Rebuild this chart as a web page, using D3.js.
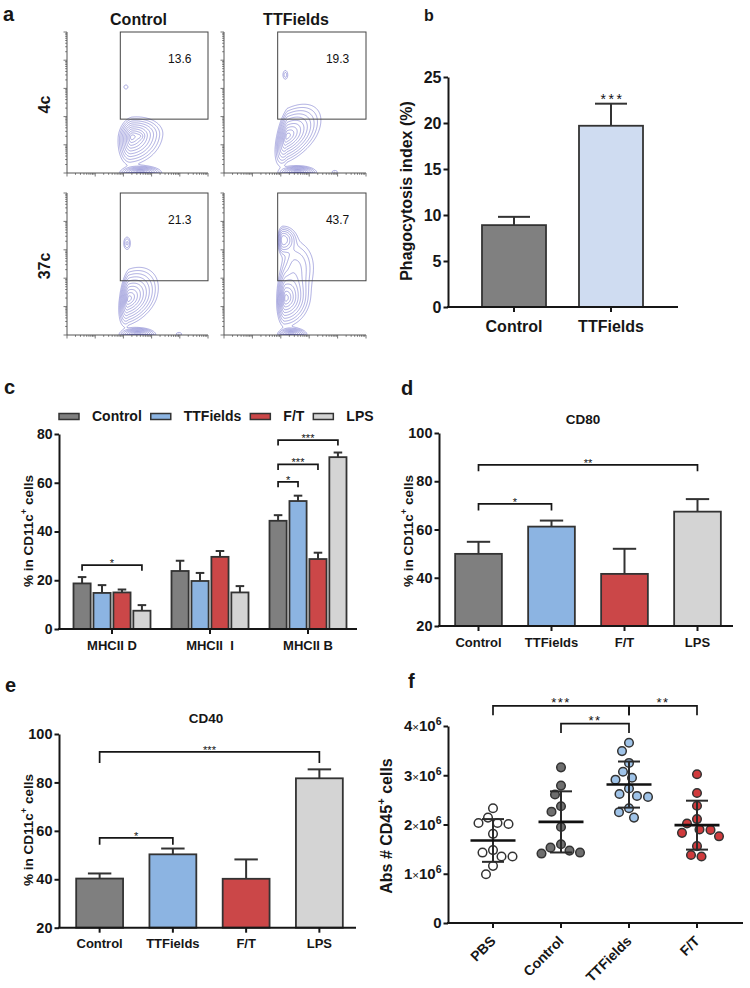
<!DOCTYPE html>
<html><head><meta charset="utf-8">
<script src="https://cdn.jsdelivr.net/npm/d3@7"></script>
<style>
body{margin:0;background:#fff}
svg{display:block}
text{font-family:"Liberation Sans",Arial,Helvetica,sans-serif}
</style></head><body>
<svg id="fig" width="750" height="988"></svg>
<script>
// ================= DATA =================
// panel a : flow cytometry contour plots
const flowColumns = ["Control", "TTFields"];
const flowRows = ["4c", "37c"];
const gatePercent4c = [13.6, 19.3];
const gatePercent37c = [21.3, 43.7];
const gateCorner = [1.89, 1.91];            // gate lower-left, in decades
// cell populations [cx, cy, sdLeft, sdRight, sdBelow, sdAbove, rho, weight] (decades)
const popControl4c = [
  [2.30, 1.28, 0.185, 0.415, 0.377, 0.268, 0.15, 1.00],
  [2.62, 1.30, 0.08, 0.08, 0.08, 0.08, 0.00, 0.12],
  [2.60, 0.00, 0.28, 0.29, 0.10, 0.10, 0.00, 0.90],
  [2.09, 3.05, 0.07, 0.07, 0.07, 0.07, 0.00, 0.05]
];
const popTTFields4c = [
  [2.22, 1.30, 0.16, 0.45, 0.40, 0.43, 0.50, 1.00],
  [2.59, 0.00, 0.26, 0.26, 0.10, 0.10, 0.00, 0.90],
  [2.16, 3.48, 0.06, 0.06, 0.11, 0.11, 0.00, 0.08],
  [3.90, 0.03, 0.08, 0.08, 0.05, 0.05, 0.00, 0.06]
];
const popControl37c = [
  [2.18, 1.27, 0.13, 0.40, 0.37, 0.42, 0.35, 1.00],
  [2.50, 0.00, 0.25, 0.25, 0.10, 0.10, 0.00, 0.90],
  [2.13, 3.23, 0.07, 0.07, 0.13, 0.13, 0.00, 0.12],
  [3.97, 0.03, 0.08, 0.08, 0.05, 0.05, 0.00, 0.06]
];
const popTTFields37c = [
  [2.17, 1.29, 0.12, 0.33, 0.38, 0.45, 0.10, 1.00],
  [2.08, 3.35, 0.08, 0.20, 0.22, 0.20, 0.00, 0.55],
  [2.50, 2.40, 0.22, 0.33, 0.45, 0.45, 0.00, 0.20],
  [2.35, 0.00, 0.18, 0.22, 0.10, 0.10, 0.00, 0.90]
];
const contourLevels = [0.03, 0.059, 0.106, 0.18, 0.284, 0.417, 0.571, 0.73, 0.869, 0.966];

// panel b
const phagoGroups = ["Control", "TTFields"];
const phagoMean = [8.9, 19.7];
const phagoSem = [0.9, 2.4];
const phagoTicks = [0, 5, 10, 15, 20, 25];
const phagoSig = ["", "***"];

// panels c-f
const conditions = ["Control", "TTFields", "F/T", "LPS"];
const mhcGroups = ["MHCII D", "MHCII  I", "MHCII B"];
const mhcControl  = [18.7, 23.8, 44.4];
const mhcTTFields = [14.8, 19.7, 52.5];
const mhcFT       = [15.0, 29.6, 28.7];
const mhcLPS      = [7.5, 15.0, 70.5];
const mhcControlSem  = [2.6, 4.2, 2.3];
const mhcTTFieldsSem = [3.2, 3.3, 2.2];
const mhcFTSem       = [1.2, 2.4, 2.6];
const mhcLPSSem      = [2.3, 2.6, 1.9];
const mhcTicks = [0, 20, 40, 60, 80];
// [group, from, to, bracket height (%), label]
const mhcBrackets = [
  ["MHCII D", "Control", "LPS", 26.2, "*"],
  ["MHCII B", "Control", "TTFields", 60.4, "*"],
  ["MHCII B", "Control", "F/T", 67.5, "***"],
  ["MHCII B", "Control", "LPS", 77.5, "***"]
];

const cd80Mean = [49.9, 61.2, 41.6, 67.4];
const cd80Sem  = [5.0, 2.5, 10.4, 5.2];
const cd80Brackets = [["Control", "LPS", 86.8, "**"], ["Control", "TTFields", 70.6, "*"]];

const cd40Mean = [40.3, 50.3, 40.2, 81.7];
const cd40Sem  = [2.1, 2.4, 8.0, 3.7];
const cd40Brackets = [["Control", "LPS", 92.6, "***"], ["Control", "TTFields", 57.1, "*"]];
const cdTicks = [20, 40, 60, 80, 100];

const cd45Groups = ["PBS", "Control", "TTFields", "F/T"];
const cd45PBS      = [2.33, 2.14, 2.03, 2.03, 2.01, 1.81, 1.48, 1.43, 1.35, 1.35, 1.16, 0.99].map(v => v * 1e6);
const cd45Control  = [3.16, 2.79, 2.61, 2.37, 2.26, 1.95, 1.60, 1.53, 1.47, 1.43, 1.41].map(v => v * 1e6);
const cd45TTFields = [3.66, 3.49, 3.25, 3.07, 2.95, 2.91, 2.73, 2.62, 2.58, 2.56, 2.33, 2.25, 2.14].map(v => v * 1e6);
const cd45FT       = [3.02, 2.64, 2.38, 2.11, 2.02, 1.90, 1.89, 1.83, 1.76, 1.56, 1.38, 1.35].map(v => v * 1e6);
const cd45Ticks = [0, 1e6, 2e6, 3e6, 4e6];
const cd45Brackets = [["PBS", "TTFields", 4.41e6, "***"], ["TTFields", "F/T", 4.41e6, "**"], ["Control", "TTFields", 4.05e6, "**"]];

// ================= STYLE =================
const INK = "#161616";
const EDGE = "#333";
const condColors = ["#7f7f7f", "#8cb4e2", "#cb4748", "#d4d4d4"];
const phagoColors = ["#808080", "#cfdcf1"];
const dotFills = ["#ffffff", "#6e6e6e", "#9fc3e8", "#d03a3c"];
const svg = d3.select("#fig");
svg.append("rect").attr("width", 750).attr("height", 988).attr("fill", "#fff");

function label(t, x, y, size) {
  svg.append("text").attr("x", x).attr("y", y).attr("font-size", size)
    .attr("font-weight", "bold").attr("fill", INK).text(t);
}
label("a", 3, 21, 20); label("b", 424, 20.5, 16); label("c", 4, 394, 20);
label("d", 401, 395, 20); label("e", 5, 692, 20); label("f", 408, 688, 20);

// ================= PANEL A =================
const flowColLeft = [67, 224], flowColRight = [208, 366];
const flowRowTop = [32, 193], flowRowBottom = [173, 335];
const flowPops = [[popControl4c, popTTFields4c], [popControl37c, popTTFields37c]];
const gateVals = [gatePercent4c, gatePercent37c];

flowColumns.forEach((c, i) => {
  svg.append("text").attr("x", (flowColLeft[i] + flowColRight[i]) / 2 + 1).attr("y", 25)
    .attr("text-anchor", "middle").attr("font-size", 16).attr("font-weight", "bold").attr("fill", INK).text(c);
});
flowRows.forEach((r, j) => {
  svg.append("text").attr("transform", `translate(50,${(flowRowTop[j] + flowRowBottom[j]) / 2 + 2}) rotate(-90)`)
    .attr("text-anchor", "middle").attr("font-size", 16).attr("font-weight", "bold").attr("fill", INK).text(r);
});

const N = 220;
let clipId = 0;
function flowPlot(left, right, top, bottom, pops, pct) {
  const fx = d3.scaleLinear().domain([0, 5]).range([left, right]);
  const fy = d3.scaleLinear().domain([0, 5]).range([bottom, top]);
  const vals = new Float64Array(N * N);
  for (let j = 0; j < N; j++) {
    const y = 5 - (j + 0.5) / N * 5;
    for (let i = 0; i < N; i++) {
      const x = (i + 0.5) / N * 5;
      let v = 0;
      for (const p of pops) {
        const [cx, cy, sl, sr, sb, sa, rho, w] = p;
        const dx = (x - cx) / (x < cx ? sl : sr), dy = (y - cy) / (y < cy ? sb : sa);
        const q = (dx * dx - 2 * rho * dx * dy + dy * dy) / (1 - rho * rho);
        v += w * Math.exp(-q / 2);
      }
      vals[j * N + i] = v;
    }
  }
  const gx = d3.scaleLinear().domain([0, N]).range([fx(0), fx(5)]);
  const gy = d3.scaleLinear().domain([0, N]).range([fy(5), fy(0)]);
  const path = d3.geoPath(d3.geoTransform({ point(x, y) { this.stream.point(gx(x), gy(y)); } }));
  const id = "clip" + (clipId++);
  svg.append("clipPath").attr("id", id).append("rect")
    .attr("x", left).attr("y", top).attr("width", right - left).attr("height", bottom - top);
  svg.append("g").attr("clip-path", `url(#${id})`).selectAll("path")
    .data(d3.contours().size([N, N]).thresholds(contourLevels)(vals)).join("path")
    .attr("d", path).attr("fill", "none").attr("stroke", "#5c5cc4").attr("stroke-width", 0.6).attr("stroke-opacity", 0.85);

  // log axes
  const lx = d3.scaleLog().domain([1, 1e5]).range([left, right]);
  const ly = d3.scaleLog().domain([1, 1e5]).range([bottom, top]);
  const ax = svg.append("g");
  ax.append("line").attr("x1", left).attr("x2", left).attr("y1", top).attr("y2", bottom).attr("stroke", "#555").attr("stroke-width", 1);
  ax.append("line").attr("x1", left).attr("x2", right).attr("y1", bottom).attr("y2", bottom).attr("stroke", "#555").attr("stroke-width", 1);
  const isMajor = t => Math.abs(Math.log10(t) - Math.round(Math.log10(t))) < 1e-9;
  ax.selectAll(".ty").data(ly.ticks()).join("line")
    .attr("x1", left).attr("x2", t => left - (isMajor(t) ? 3.5 : 1.8)).attr("y1", ly).attr("y2", ly)
    .attr("stroke", "#555").attr("stroke-width", 0.8);
  ax.selectAll(".tx").data(lx.ticks()).join("line")
    .attr("y1", bottom).attr("y2", t => bottom + (isMajor(t) ? 3.5 : 1.8)).attr("x1", lx).attr("x2", lx)
    .attr("stroke", "#555").attr("stroke-width", 0.8);
  // gate
  svg.append("rect").attr("x", fx(gateCorner[0])).attr("y", fy(5))
    .attr("width", fx(5) - fx(gateCorner[0])).attr("height", fy(gateCorner[1]) - fy(5))
    .attr("fill", "none").attr("stroke", "#444").attr("stroke-width", 1);
  svg.append("text").attr("x", fx(4.0)).attr("y", fy(3.9)).attr("text-anchor", "middle")
    .attr("font-family", '"Liberation Serif","Times New Roman",serif').attr("font-size", 12).attr("fill", "#111")
    .text(pct.toFixed(1));
}
for (let r = 0; r < 2; r++) for (let c = 0; c < 2; c++)
  flowPlot(flowColLeft[c], flowColRight[c], flowRowTop[r], flowRowBottom[r], flowPops[r][c], gateVals[r][c]);

// ================= helpers =================
function yAxis(y, ticks, xPos, size, fmt) {
  const g = svg.append("g").attr("transform", `translate(${xPos},0)`)
    .call(d3.axisLeft(y).tickValues(ticks).tickSize(4.5).tickSizeOuter(0).tickPadding(2).tickFormat(fmt || d3.format("d")));
  g.select(".domain").attr("stroke", INK).attr("stroke-width", 2);
  g.selectAll(".tick line").attr("stroke", INK).attr("stroke-width", 2);
  g.selectAll(".tick text").attr("font-size", size).attr("font-weight", "bold").attr("fill", INK)
    .attr("font-family", '"Liberation Sans",Arial,sans-serif');
  return g;
}
function xAxisLine(x1, x2, yPos) {
  svg.append("line").attr("x1", x1 - 1).attr("x2", x2).attr("y1", yPos).attr("y2", yPos)
    .attr("stroke", INK).attr("stroke-width", 2);
}
function xTicks(positions, yPos, len) {
  svg.append("g").selectAll("line").data(positions).join("line")
    .attr("x1", d => d).attr("x2", d => d).attr("y1", yPos).attr("y2", yPos + len)
    .attr("stroke", INK).attr("stroke-width", 2);
}
function bars(list) {
  const g = svg.append("g");
  g.selectAll("rect").data(list).join("rect")
    .attr("x", d => d.x).attr("width", d => d.w).attr("y", d => d.y1).attr("height", d => d.y0 - d.y1)
    .attr("fill", d => d.fill).attr("stroke", EDGE).attr("stroke-width", 1.8);
  g.selectAll(".stem").data(list).join("line").attr("class", "stem")
    .attr("x1", d => d.x + d.w / 2).attr("x2", d => d.x + d.w / 2).attr("y1", d => d.y1).attr("y2", d => d.yErr)
    .attr("stroke", EDGE).attr("stroke-width", 2);
  g.selectAll(".cap").data(list).join("line").attr("class", "cap")
    .attr("x1", d => d.x + d.w / 4).attr("x2", d => d.x + 3 * d.w / 4).attr("y1", d => d.yErr).attr("y2", d => d.yErr)
    .attr("stroke", EDGE).attr("stroke-width", 2);
}
function bracket(x1, x2, yb, drop, txt, size) {
  const d = `M${x1},${yb + drop}L${x1},${yb}L${x2},${yb}L${x2},${yb + drop}`;
  svg.append("path").attr("d", d).attr("fill", "none").attr("stroke", INK).attr("stroke-width", 1.7);
  svg.append("text").attr("x", (x1 + x2) / 2).attr("y", yb + 2).attr("text-anchor", "middle")
    .attr("font-size", size).attr("fill", "#111").text(txt);
}
function yLabel(x, y, size, main, sup, rest) {
  const t = svg.append("text").attr("transform", `translate(${x},${y}) rotate(-90)`).attr("text-anchor", "middle")
    .attr("font-size", size).attr("font-weight", "bold").attr("fill", INK);
  t.append("tspan").text(main);
  if (sup) {
    t.append("tspan").attr("font-size", size * 0.7).attr("dy", -size * 0.42).text(sup);
    t.append("tspan").attr("dy", size * 0.42).text(rest);
  }
}
function xLabels(names, positions, yPos, size) {
  svg.append("g").selectAll("text").data(names).join("text")
    .attr("x", (d, i) => positions[i]).attr("y", yPos).attr("text-anchor", "middle")
    .attr("font-size", size).attr("font-weight", "bold").attr("fill", INK)
    .style("white-space", "pre").text(d => d);
}

// ================= PANEL B =================
{
  const y = d3.scaleLinear().domain([0, 25]).range([307, 77]);
  const x = d3.scaleBand().domain(phagoGroups).range([465.5, 659.5]);
  const bw = 64;
  bars(phagoGroups.map((g, i) => ({
    x: x(g) + x.bandwidth() / 2 - bw / 2, w: bw, y0: y(0), y1: y(phagoMean[i]),
    yErr: y(phagoMean[i] + phagoSem[i]), fill: phagoColors[i]
  })));
  xAxisLine(448, 678, y(0));
  xTicks(phagoGroups.map(g => x(g) + x.bandwidth() / 2), y(0), 5);
  yAxis(y, phagoTicks, 448, 16);
  xLabels(phagoGroups, phagoGroups.map(g => x(g) + x.bandwidth() / 2), 332, 16);
  phagoGroups.forEach((g, i) => {
    if (phagoSig[i]) svg.append("text").attr("x", x(g) + x.bandwidth() / 2 + 1.5).attr("y", y(phagoMean[i] + phagoSem[i]) + 0.5)
      .attr("text-anchor", "middle").attr("font-size", 14).attr("fill", "#111").attr("letter-spacing", 2.5).text(phagoSig[i]);
  });
  yLabel(412, 191, 16, "Phagocytosis index (%)");
}

// ================= PANEL C =================
{
  const y = d3.scaleLinear().domain([0, 80]).range([629, 434]);
  const xg = d3.scaleBand().domain(mhcGroups).range([63, 357]);
  const xs = d3.scaleBand().domain(conditions).range([10.5, 87.5]).paddingInner(0.14);
  const series = [mhcControl, mhcTTFields, mhcFT, mhcLPS];
  const sems = [mhcControlSem, mhcTTFieldsSem, mhcFTSem, mhcLPSSem];
  const list = [];
  mhcGroups.forEach((g, gi) => conditions.forEach((c, ci) => list.push({
    x: xg(g) + xs(c), w: xs.bandwidth(), y0: y(0), y1: y(series[ci][gi]),
    yErr: y(series[ci][gi] + sems[ci][gi]), fill: condColors[ci]
  })));
  bars(list);
  xAxisLine(59, 357, y(0));
  const centers = mhcGroups.map(g => xg(g) + xg.bandwidth() / 2);
  xTicks(centers, y(0), 5);
  yAxis(y, mhcTicks, 59, 14);
  xLabels(mhcGroups, centers, 650, 13);
  const bc = (g, c) => xg(g) + xs(c) + xs.bandwidth() / 2;
  mhcBrackets.forEach(b => bracket(bc(b[0], b[1]), bc(b[0], b[2]), y(b[3]), 5.5, b[4], 11));
  let lx = 59;
  conditions.forEach((c, i) => {
    svg.append("rect").attr("x", lx).attr("y", 413.5).attr("width", 20).attr("height", 6)
      .attr("fill", condColors[i]).attr("stroke", EDGE).attr("stroke-width", 1.5);
    const t = svg.append("text").attr("x", lx + 33).attr("y", 420.5).attr("font-size", 14).attr("font-weight", "bold")
      .attr("fill", INK).text(c);
    lx += 33 + t.node().getComputedTextLength() + 9;
  });
  yLabel(33, 531, 13.5, "% in CD11c", "+", " cells");
}

// ================= PANELS D & E =================
function cdPanel(opt) {
  const y = d3.scaleLinear().domain([20, 100]).range([opt.bottom, opt.top]);
  const x = d3.scaleBand().domain(conditions).range(opt.band).paddingInner(0.36).paddingOuter(0.18);
  bars(conditions.map((c, i) => ({
    x: x(c), w: x.bandwidth(), y0: y(20), y1: y(opt.mean[i]), yErr: y(opt.mean[i] + opt.sem[i]), fill: condColors[i]
  })));
  xAxisLine(opt.axisX, opt.axisEnd, y(20));
  const centers = conditions.map(c => x(c) + x.bandwidth() / 2);
  xTicks(centers, y(20), 5);
  yAxis(y, cdTicks, opt.axisX, 14.5);
  xLabels(conditions, centers, opt.labelY, 13);
  const bc = c => x(c) + x.bandwidth() / 2;
  opt.brackets.forEach(b => bracket(bc(b[0]), bc(b[1]), y(b[2]), opt.drops[b[3].length > 1 ? 0 : 1], b[3], 11));
  svg.append("text").attr("x", opt.titleX).attr("y", opt.titleY).attr("text-anchor", "middle")
    .attr("font-size", 13.5).attr("font-weight", "bold").attr("fill", INK).text(opt.title);
  yLabel(opt.ylabX, opt.ylabY, 13.5, "% in CD11c", "+", " cells");
}
cdPanel({ top: 433, bottom: 626, band: [442, 734], axisX: 439, axisEnd: 733, mean: cd80Mean, sem: cd80Sem,
  brackets: cd80Brackets, drops: [6.5, 6.5], labelY: 647, title: "CD80", titleX: 583, titleY: 424, ylabX: 413, ylabY: 531 });
cdPanel({ top: 734, bottom: 927.7, band: [63, 356], axisX: 59, axisEnd: 356, mean: cd40Mean, sem: cd40Sem,
  brackets: cd40Brackets, drops: [11, 7], labelY: 948, title: "CD40", titleX: 206, titleY: 723, ylabX: 33, ylabY: 830 });

// ================= PANEL F =================
{
  const y = d3.scaleLinear().domain([0, 4e6]).range([923, 726]);
  const x = d3.scaleBand().domain(cd45Groups).range([459, 731]);
  const cx = g => x(g) + x.bandwidth() / 2;
  const sets = [cd45PBS, cd45Control, cd45TTFields, cd45FT];
  const D = 10.6;
  const gDots = svg.append("g"), gStats = svg.append("g");
  sets.forEach((vals, gi) => {
    const placed = [];
    const pts = vals.map(v => {
      const py = y(v);
      let off = 0;
      for (let k = 0; k < 400; k++) {
        const o = (k % 2 === 0 ? 1 : -1) * Math.ceil(k / 2) * 0.5;
        if (placed.every(p => (p.x - o) ** 2 + (p.y - py) ** 2 >= D * D)) { off = o; break; }
      }
      placed.push({ x: off, y: py });
      return { x: cx(cd45Groups[gi]) + off, y: py };
    });
    gDots.selectAll(null).data(pts).join("circle").attr("cx", d => d.x).attr("cy", d => d.y).attr("r", 4.3)
      .attr("fill", dotFills[gi]).attr("stroke", EDGE).attr("stroke-width", 1.5);
    const m = d3.mean(vals), s = d3.deviation(vals), c0 = cx(cd45Groups[gi]);
    gStats.append("line").attr("x1", c0).attr("x2", c0).attr("y1", y(m - s)).attr("y2", y(m + s)).attr("stroke", "#2a2a2a").attr("stroke-width", 2);
    [m - s, m + s].forEach(v => gStats.append("line").attr("x1", c0 - 11).attr("x2", c0 + 11).attr("y1", y(v)).attr("y2", y(v))
      .attr("stroke", "#2a2a2a").attr("stroke-width", 2));
    gStats.append("line").attr("x1", c0 - 22.5).attr("x2", c0 + 22.5).attr("y1", y(m)).attr("y2", y(m))
      .attr("stroke", "#111").attr("stroke-width", 2.6);
  });
  xAxisLine(448, 743, y(0));
  xTicks(cd45Groups.map(cx), y(0), 5);
  const g = svg.append("g").attr("transform", "translate(448,0)")
    .call(d3.axisLeft(y).tickValues(cd45Ticks).tickSize(4.5).tickSizeOuter(0).tickPadding(2).tickFormat(""));
  g.select(".domain").attr("stroke", INK).attr("stroke-width", 2);
  g.selectAll(".tick line").attr("stroke", INK).attr("stroke-width", 2);
  g.selectAll(".tick text").each(function (d) {
    const t = d3.select(this).attr("font-weight", "bold").attr("fill", INK).attr("font-size", 15)
      .attr("font-family", '"Liberation Sans",Arial,sans-serif');
    if (d === 0) { t.text("0"); return; }
    t.append("tspan").text(d3.format("d")(d / 1e6));
    t.append("tspan").attr("font-size", 11.5).attr("font-weight", "normal").text("\u00d7");
    t.append("tspan").text("10");
    t.append("tspan").attr("font-size", 10.5).attr("dy", -6).text("6");
  });
  cd45Groups.forEach(gr => {
    svg.append("text").attr("transform", `translate(${cx(gr) + 3.5},942) rotate(-45)`).attr("text-anchor", "end")
      .attr("font-size", 14).attr("font-weight", "bold").attr("fill", INK).text(gr);
  });
  const drops = [9.5, 9.5, 9.5];
  cd45Brackets.forEach((b, i) => {
    const x1 = cx(b[0]), x2 = cx(b[1]), yb = y(b[2]);
    svg.append("path").attr("d", `M${x1},${yb + drops[i]}L${x1},${yb}L${x2},${yb}L${x2},${yb + drops[i]}`)
      .attr("fill", "none").attr("stroke", INK).attr("stroke-width", 1.7);
    svg.append("text").attr("x", (x1 + x2) / 2).attr("y", yb + 1.5).attr("text-anchor", "middle")
      .attr("font-size", 13).attr("letter-spacing", 1.5).attr("fill", "#111").text(b[3]);
  });
  yLabel(392, 826, 16, "Abs # CD45", "+", " cells");
}
</script>
</body></html>
